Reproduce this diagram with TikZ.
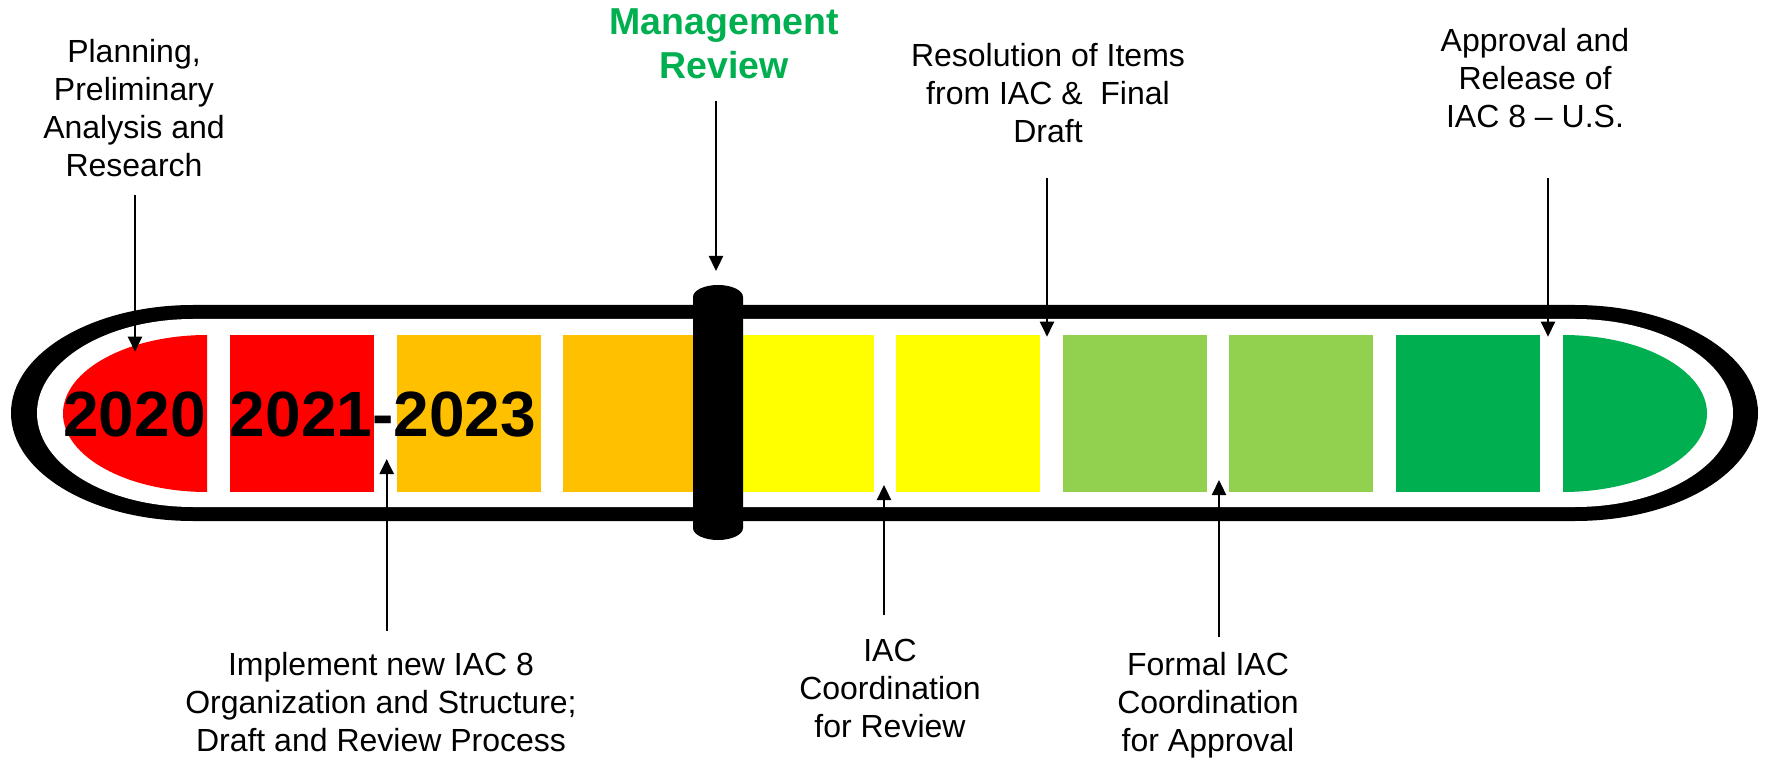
\documentclass[tikz,border=0pt]{standalone}
\usepackage{fontspec}
\setmainfont{Liberation Sans}
\usetikzlibrary{arrows.meta}
\definecolor{segred}{HTML}{FF0000}
\definecolor{segorange}{HTML}{FFC000}
\definecolor{segyellow}{HTML}{FFFF00}
\definecolor{seglime}{HTML}{92D050}
\definecolor{seggreen}{HTML}{00B050}
\tikzstyle{notetext} = [inner sep=0pt, align=center, anchor=north, font=\fontsize{32}{38}\selectfont]
\tikzstyle{yeartext} = [inner sep=0pt, anchor=base, font=\fontsize{64}{70}\selectfont\bfseries]
\tikzset{
  line/.style ={draw, line width=2.3pt, -{Triangle[width=14pt,length=15pt]}}
}

\begin{document}
\begin{tikzpicture}[x=1pt,y=-1pt]
 \useasboundingbox (0,0) rectangle (1765,759);
 % outer band
 \fill[black] (193,305) -- (1575,305) arc[start angle=-90,end angle=90,x radius=183,y radius=108]
   -- (193,521) arc[start angle=90,end angle=270,x radius=182,y radius=108] -- cycle;
 \fill[white] (193,319) -- (1575,319) arc[start angle=-90,end angle=90,x radius=158,y radius=94]
   -- (193,507) arc[start angle=90,end angle=270,x radius=156,y radius=94] -- cycle;
 % segments
 \fill[segred] (207,335) arc[start angle=270,end angle=90,x radius=144,y radius=78.5] -- cycle;
 \foreach \i/\c in {0/segred,1/segorange,2/segorange,3/segyellow,4/segyellow,5/seglime,6/seglime,7/seggreen}
   \fill[\c] (230+166.5*\i,335) rectangle ++(144,157);
 \fill[seggreen] (1563,335) arc[start angle=-90,end angle=90,x radius=144,y radius=78.5] -- cycle;
 \node[yeartext] (y2020) at (134.5,436) {2020};
 \node[yeartext] (y2123) at (383,436) {2021-2023};
 % pillar
 \fill[black] (693,297) arc[start angle=180,end angle=360,x radius=25,y radius=12]
   -- (743,528) arc[start angle=0,end angle=180,x radius=25,y radius=12] -- cycle;

 \node[notetext] (plan) at (134,39) {Planning,\\Preliminary\\Analysis and\\Research};
 \node[notetext, font=\fontsize{37.5}{44}\selectfont\bfseries, text=seggreen] (mgmt) at (724,9) {Management\\Review};
 \node[notetext] (res) at (1048,43.3) {Resolution of Items\\from IAC \& \ Final\\Draft};
 \node[notetext] (appr) at (1535,28.3) {Approval and\\Release of\\IAC 8 – U.S.};
 \node[notetext] (impl) at (381,651.7) {Implement new IAC 8\\Organization and Structure;\\Draft and Review Process};
 \node[notetext] (iac) at (890,639.3) {IAC\\Coordination\\for Review};
 \node[notetext] (formal) at (1208,652) {Formal IAC\\Coordination\\for Approval};

 \coordinate (tplan) at (135,351.7);
 \coordinate (tmgmt) at (716,271);
 \coordinate (tres) at (1047,336.7);
 \coordinate (tappr) at (1548,336.7);
 \coordinate (timpl) at (386.7,459);
 \coordinate (tiac) at (884,485);
 \coordinate (tformal) at (1219,480);
 \begin{scope}[every path/.style=line]
   \path[shorten <=18pt] (plan.south -| tplan) -- (tplan);
   \path[shorten <=21pt] (mgmt.south -| tmgmt) -- (tmgmt);
   \path[shorten <=35pt] (res.south -| tres) -- (tres);
   \path[shorten <=50pt] (appr.south -| tappr) -- (tappr);
   \path[shorten <=21pt] (impl.north -| timpl) -- (timpl);
   \path[shorten <=24pt] (iac.north -| tiac) -- (tiac);
   \path[shorten <=15pt] (formal.north -| tformal) -- (tformal);
 \end{scope}
\end{tikzpicture}
\end{document}
